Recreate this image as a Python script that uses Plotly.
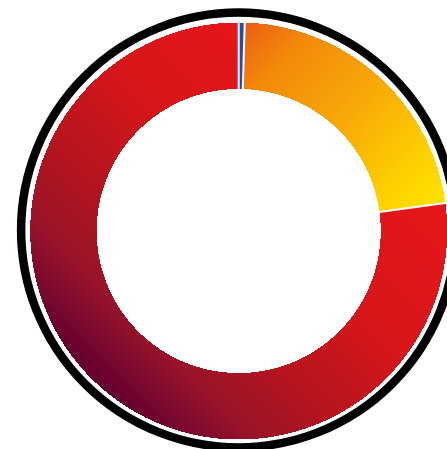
import numpy as np
import plotly.graph_objects as go

# ---- data ----
labels = ["Blue", "Amber", "Red"]
values = [0.46, 22.4, 77.14]

# gradient definitions per slice (colour stops)
blue_stops = [[0.0, "#2c4a9e"], [1.0, "#2c4a9e"]]
amber_stops = [[0.0, "#ec5e12"], [0.2, "#f38a0a"], [0.5, "#f8a808"], [0.8, "#fdd000"], [1.0, "#ffe600"]]
red_stops = [[0.0, "#4a0038"], [0.15, "#640031"], [0.27, "#9a1429"], [0.37, "#b2141f"],
             [0.55, "#d6161a"], [0.75, "#e5161a"], [1.0, "#ee1e1e"]]
slice_scales = [blue_stops, amber_stops, red_stops]
gradient_dirs = ["none", "tl_br", "bl_tr"]

# ---- layout geometry ----
W, H = 447, 449
CX, CY = 238.7, 231.0
R_OUT, R_IN = 208.5, 142.0
RING_CX, RING_CY, RING_R, RING_W = 238.5, 230.0, 217.4, 8.5

xs = np.arange(W) + 0.5
ys = np.arange(H) + 0.5
X, Y = np.meshgrid(xs, ys)
DX, DY = X - CX, Y - CY
RR = np.hypot(DX, DY)
TH = np.degrees(np.arctan2(DX, -DY)) % 360

total = float(sum(values))
bounds = np.concatenate([[0.0], np.cumsum(values) / total * 360.0])

fig = go.Figure()

for i, lab in enumerate(labels):
    a0, a1 = bounds[i], bounds[i + 1]
    mask = (RR >= R_IN) & (RR <= R_OUT) & (TH >= a0) & (TH < a1)
    xm, ym = X[mask], Y[mask]
    x0, x1, y0, y1 = xm.min(), xm.max(), ym.min(), ym.max()
    if gradient_dirs[i] == "bl_tr":
        t = ((X - x0) + (y1 - Y)) / ((x1 - x0) + (y1 - y0))
    elif gradient_dirs[i] == "tl_br":
        dx, dy = x1 - x0, y1 - y0
        t = ((X - x0) * dx + (Y - y0) * dy) / (dx * dx + dy * dy)
    else:
        t = np.zeros_like(X)
    z = np.where(mask, np.round(np.clip(t, 0, 1), 3), np.nan)
    rows = np.where(mask.any(axis=1))[0]
    cols = np.where(mask.any(axis=0))[0]
    r0, r1 = rows.min(), rows.max() + 1
    c0, c1 = cols.min(), cols.max() + 1
    fig.add_trace(go.Heatmap(
        x=xs[c0:c1], y=ys[r0:r1], z=z[r0:r1, c0:c1],
        colorscale=slice_scales[i], zmin=0, zmax=1, showscale=False,
        zsmooth=False, hoverinfo="skip", name=lab,
    ))

# white separators between slices
for a in bounds[:-1]:
    rad = np.radians(a)
    rr = np.array([R_IN - 2, R_OUT + 2])
    fig.add_trace(go.Scatter(
        x=CX + rr * np.sin(rad), y=CY - rr * np.cos(rad), mode="lines",
        line=dict(color="white", width=2), hoverinfo="skip", showlegend=False,
    ))

fig.add_shape(type="circle", xref="x", yref="y",
              x0=RING_CX - RING_R, x1=RING_CX + RING_R,
              y0=RING_CY - RING_R, y1=RING_CY + RING_R,
              line=dict(color="black", width=RING_W), layer="below")

fig.update_layout(
    width=W, height=H, margin=dict(l=0, r=0, t=0, b=0),
    paper_bgcolor="white", plot_bgcolor="white", showlegend=False,
    xaxis=dict(range=[0, W], visible=False, fixedrange=True),
    yaxis=dict(range=[H, 0], visible=False, fixedrange=True),
)

fig.write_html(
    "out.html",
    config={"displayModeBar": False},
    post_script="document.body.style.margin='0';document.body.style.overflow='hidden';",
)
